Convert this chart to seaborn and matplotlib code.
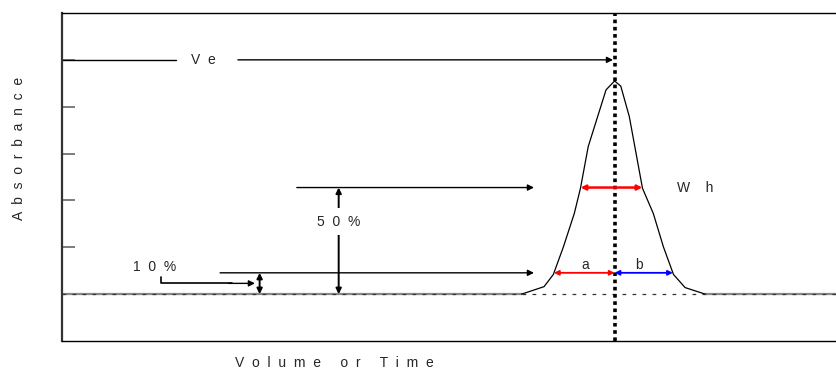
import numpy as np
import matplotlib.pyplot as plt
import seaborn as sns

# elution peak (x: volume/time units 0-100, y: absorbance)
peak_x = [59.3, 62.2, 63.4, 64.7, 66.1, 66.9, 67.9, 70.2, 71.3, 72.1, 73.2, 74.9, 76.3, 77.6, 78.9, 80.4, 83.0]
peak_y = [0.0, 0.16, 0.42, 1.01, 1.72, 2.26, 3.15, 4.36, 4.55, 4.44, 3.79, 2.26, 1.72, 1.01, 0.42, 0.14, 0.0]
y_ticks = [0, 1, 2, 3, 4, 5]
ve_level = 5
x_range = [0, 100]
y_range = [-1, 6]

# annotation labels
ylab = '  '.join('Absorbance')
xlab = '     '.join('  '.join(w) for w in ['Volume', 'or', 'Time'])
ve_lab = 'V  e'
wh_lab = 'W    h'
p50_lab = '5  0  %'
p10_lab = '1  0  %'

sns.set_style('white')
plt.rcParams['font.family'] = ['Liberation Sans', 'DejaVu Sans']
fs = 10

fig = plt.figure(figsize=(8.37, 3.71), dpi=100)
ax = fig.add_axes([62 / 837, 30 / 371, 775 / 837, 328 / 371])

px = np.array(peak_x)
py = np.array(peak_y)
top = py.max()
ve = px[py.argmax()]

# flat baseline parts of the trace (grey) and the peak itself
sns.lineplot(x=[x_range[0], px[0]], y=[0, 0], color='#888888', lw=1.6, ax=ax)
sns.lineplot(x=[px[-1], x_range[1]], y=[0, 0], color='#888888', lw=1.6, ax=ax)
sns.lineplot(x=px, y=py, color='black', lw=0.9, sort=False, ax=ax)
ax.axhline(0, color='#333333', lw=0.9, dashes=(3, 5))

# elution volume marker
ax.axvline(ve, color='black', lw=2.6, linestyle=(0, (1, 1)))

# half height and 10 % height crossings of the peak
i = py.argmax()
def cross(level):
    left = np.interp(level, py[:i + 1], px[:i + 1])
    right = np.interp(level, py[i:][::-1], px[i:][::-1])
    return left, right

h50 = 0.5 * top
h10 = 0.1 * top
l50, r50 = cross(h50)
l10, r10 = cross(h10)

arr = dict(arrowstyle='-|>', color='black', lw=1.0, mutation_scale=9, shrinkA=0, shrinkB=0)
dbl = dict(arrowstyle='<|-|>', color='black', lw=1.4, mutation_scale=8, shrinkA=0, shrinkB=0)

# Ve line
ax.plot([x_range[0], 14.7], [ve_level, ve_level], color='black', lw=1.0)
ax.annotate('', xy=(ve - 0.2, ve_level), xytext=(22.7, ve_level), arrowprops=arr)
ax.text(18.2, ve_level, ve_lab, ha='center', va='center', fontsize=fs)

# 50 % and 10 % guide lines
ax.annotate('', xy=(60.9, h50), xytext=(30.3, h50), arrowprops=arr)
ax.annotate('', xy=(60.9, h10), xytext=(20.4, h10), arrowprops=arr)

# 50 % height arrow
ax.annotate('', xy=(35.7, h50), xytext=(35.7, 0), arrowprops=dbl)
ax.text(35.7, 1.55, p50_lab, ha='center', va='center', fontsize=fs,
        bbox=dict(facecolor='white', edgecolor='none', pad=5))

# 10 % height arrow
ax.annotate('', xy=(25.5, h10), xytext=(25.5, 0), arrowprops=dbl)
ax.text(12.0, 0.58, p10_lab, ha='center', va='center', fontsize=fs)
ax.plot([12.8, 12.8, 22.0], [0.37, 0.23, 0.23], color='black', lw=1.2)
ax.annotate('', xy=(24.9, 0.23), xytext=(21.5, 0.23), arrowprops=arr)

# peak width at half height
red = dict(arrowstyle='<|-|>', color='red', lw=1.8, mutation_scale=7, shrinkA=0, shrinkB=0)
blue = dict(arrowstyle='<|-|>', color='blue', lw=1.3, mutation_scale=7, shrinkA=0, shrinkB=0)
ax.annotate('', xy=(r50, h50), xytext=(l50, h50), arrowprops=red)
ax.text(79.3, h50, wh_lab, ha='left', va='center', fontsize=fs)

# asymmetry a / b at 10 %
ax.annotate('', xy=(ve, h10), xytext=(l10, h10), arrowprops=dict(red, lw=1.3))
ax.annotate('', xy=(r10, h10), xytext=(ve, h10), arrowprops=blue)
ax.text(67.5, 0.62, 'a', ha='center', va='center', fontsize=fs)
ax.text(74.5, 0.62, 'b', ha='center', va='center', fontsize=fs)

ax.set_xlim(x_range)
ax.set_ylim(y_range)
ax.set_xticks([])
ax.set_yticks(y_ticks)
ax.set_yticklabels([])
ax.tick_params(axis='y', direction='in', length=9, width=1.2, color='#666666', left=True)
for s in ['top', 'bottom']:
    ax.spines[s].set_linewidth(1.0)
    ax.spines[s].set_color('black')
ax.spines['left'].set_linewidth(1.6)
ax.spines['left'].set_color('#333333')
ax.spines['right'].set_visible(False)

ax.set_xlabel(xlab, fontsize=fs)
ax.set_ylabel(ylab, fontsize=fs)
ax.xaxis.set_label_coords(0.352, -0.045)
ax.yaxis.set_label_coords(-0.046, 0.588)

fig.savefig('out.png', dpi=100)
